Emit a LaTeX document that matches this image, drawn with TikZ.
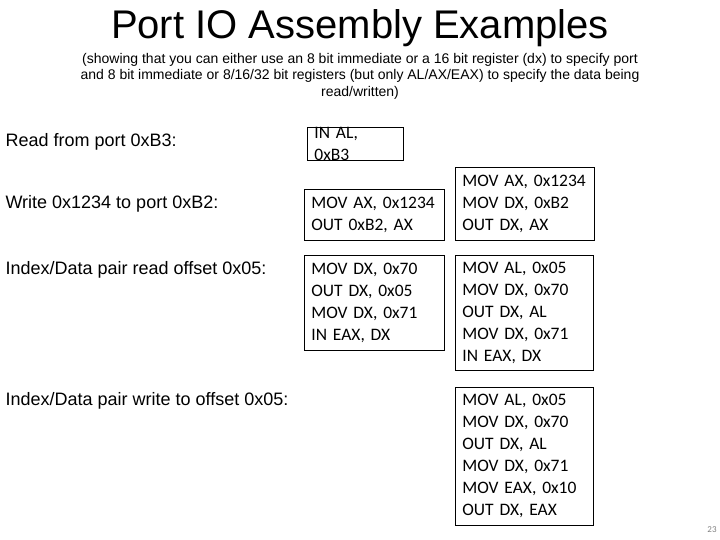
\documentclass[tikz,border=0pt]{standalone}
\usepackage{fontspec}
\setmainfont{Liberation Sans}
\newfontfamily\calfont{Carlito}
\begin{document}
\begin{tikzpicture}[x=1pt,y=-1pt,
  code/.style={draw,line width=0.8pt,anchor=north west,align=left,font=\calfont\fontsize{17.5}{22}\selectfont,inner xsep=7pt,inner ysep=0pt,text width=#1},
  lab/.style={anchor=west,font=\fontsize{18}{20}\selectfont}]
\useasboundingbox (0,0) rectangle (720,540);
\node (title) at (360,28) {\fontsize{40}{44}\selectfont Port IO Assembly Examples};
\node (sub) at (360,76) [align=center,font=\fontsize{14}{16.5}\selectfont] {(showing that you can either use an 8 bit immediate or a 16 bit register (dx) to specify port\\and 8 bit immediate or 8/16/32 bit registers (but only AL/AX/EAX) to specify the data being\\read/written)};
\node[lab] (l1) at (2,142) {Read from port 0xB3:};
\node[lab] (l2) at (2,204) {Write 0x1234 to port 0xB2:};
\node[lab] (l3) at (2,270) {Index/Data pair read offset 0x05:};
\node[lab] (l4) at (2,401) {Index/Data pair write to offset 0x05:};
\node[code=82pt,minimum height=30pt] (b1) at (307,127) {IN AL, 0xB3};
\node[code=126pt,minimum height=51pt] (b2) at (304,189) {MOV AX, 0x1234\\OUT 0xB2, AX};
\node[code=125pt,minimum height=73pt] (b3) at (455,167) {MOV AX, 0x1234\\MOV DX, 0xB2\\OUT DX, AX};
\node[code=126pt,minimum height=95pt] (b4) at (304,255) {MOV DX, 0x70\\OUT DX, 0x05\\MOV DX, 0x71\\IN EAX, DX};
\node[code=124pt,minimum height=115pt] (b5) at (455,255) {MOV AL, 0x05\\MOV DX, 0x70\\OUT DX, AL\\MOV DX, 0x71\\IN EAX, DX};
\node[code=124pt,minimum height=138pt] (b6) at (455,387) {MOV AL, 0x05\\MOV DX, 0x70\\OUT DX, AL\\MOV DX, 0x71\\MOV EAX, 0x10\\OUT DX, EAX};
\node (pg) at (712,530) {\calfont\fontsize{9}{10}\selectfont\color{gray}23};
\end{tikzpicture}
\end{document}
